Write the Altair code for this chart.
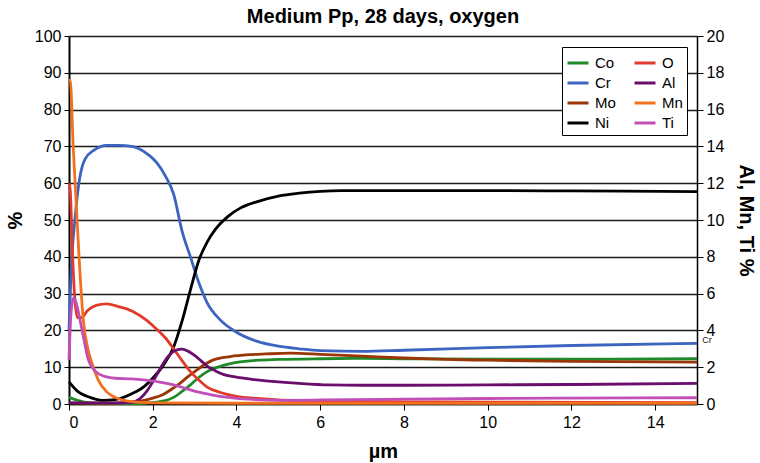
import altair as alt
import pandas as pd

# ---- data ----
order = ["Co", "Cr", "Mo", "Ni", "O", "Al", "Mn", "Ti"]
colors = ["#1f8a2a", "#3d64c1", "#9a3608", "#000000", "#e23a2a", "#6a0d6c", "#f3701f", "#c24fb8"]

# left axis (%)
co_x = [0, 0.2, 0.5, 1.0, 1.5, 1.8, 2.1, 2.3, 2.5, 2.7, 2.9, 3.1, 3.3, 3.6, 4.0, 4.5, 5.0, 6.0, 7.0, 8.0, 10.0, 12.0, 15.0]
co_y = [1.8, 1.0, 0.3, 0.1, 0.1, 0.2, 0.5, 0.9, 1.8, 3.4, 5.2, 7.2, 8.8, 10.2, 11.3, 11.9, 12.1, 12.3, 12.4, 12.3, 12.2, 12.2, 12.3]

cr_x = [0, 0.05, 0.14, 0.25, 0.38, 0.6, 0.9, 1.2, 1.5, 1.8, 2.1, 2.3, 2.5, 2.7, 2.9, 3.1, 3.3, 3.6, 4.0, 4.5, 5.0, 5.5, 6.0, 7.0, 8.0, 10.0, 12.0, 15.0]
cr_y = [20, 36, 50, 61, 66.5, 69, 70.3, 70.3, 70, 68.5, 65.5, 62, 57, 47, 40, 33, 27.5, 23, 19.5, 17, 15.7, 15, 14.5, 14.3, 14.6, 15.3, 15.9, 16.5]

mo_x = [0, 0.5, 1.0, 1.5, 1.8, 2.0, 2.25, 2.45, 2.65, 2.85, 3.05, 3.25, 3.45, 3.85, 4.3, 4.7, 5.3, 6.0, 7.0, 8.0, 9.0, 10.0, 12.0, 15.0]
mo_y = [0.3, 0.2, 0.2, 0.5, 1.0, 1.6, 2.6, 4.0, 5.6, 7.5, 9.2, 10.8, 12.0, 12.9, 13.4, 13.6, 13.8, 13.5, 13.0, 12.5, 12.1, 11.9, 11.6, 11.4]

ni_x = [0, 0.2, 0.5, 0.8, 1.1, 1.5, 1.8, 2.0, 2.25, 2.5, 2.7, 2.9, 3.1, 3.3, 3.5, 3.8, 4.1, 4.5, 5.0, 5.5, 6.0, 6.5, 7.0, 8.0, 10.0, 12.0, 15.0]
ni_y = [6, 3.5, 1.8, 1.0, 1.2, 2.8, 4.8, 7.0, 10.5, 15.5, 22.5, 31, 39, 44, 47.5, 51, 53.3, 55, 56.5, 57.3, 57.8, 58, 58, 58, 58, 57.9, 57.7]

o_x = [0, 0.03, 0.08, 0.13, 0.2, 0.3, 0.45, 0.65, 0.9, 1.2, 1.5, 1.85, 2.05, 2.3, 2.5, 2.7, 2.9, 3.1, 3.3, 3.6, 4.0, 4.5, 5.0, 5.5, 6.5, 8.0, 10.0, 15.0]
o_y = [60, 58, 42, 30, 23.5, 23.5, 25.5, 26.8, 27.2, 26.4, 25.3, 22.8, 20.8, 18, 15, 11.8, 8.8, 6.5, 4.6, 3.2, 2.1, 1.5, 1.1, 0.9, 0.7, 0.6, 0.5, 0.4]

# right axis (Al, Mn, Ti %)
al_x = [0, 1.0, 1.46, 1.7, 1.86, 2.05, 2.25, 2.4, 2.55, 2.7, 2.85, 3.0, 3.15, 3.3, 3.5, 3.7, 4.0, 4.3, 4.7, 5.0, 5.5, 6.2, 7.0, 8.0, 10.0, 12.0, 15.0]
al_y = [0.06, 0.06, 0.08, 0.3, 0.7, 1.4, 2.2, 2.66, 2.92, 2.98, 2.86, 2.64, 2.36, 2.06, 1.8, 1.6, 1.46, 1.36, 1.26, 1.2, 1.12, 1.04, 1.02, 1.02, 1.04, 1.06, 1.12]

mn_x = [0, 0.03, 0.1, 0.17, 0.25, 0.34, 0.45, 0.55, 0.7, 0.9, 1.1, 1.4, 2.0, 4.0, 8.0, 15.0]
mn_y = [17.6, 17.6, 14.0, 11.0, 7.6, 4.6, 3.0, 2.2, 1.3, 0.66, 0.36, 0.16, 0.06, 0.04, 0.04, 0.04]

ti_x = [0, 0.05, 0.11, 0.17, 0.26, 0.34, 0.45, 0.62, 0.85, 1.1, 1.5, 1.9, 2.2, 2.5, 2.8, 3.1, 3.4, 3.8, 4.3, 5.0, 6.0, 8.0, 10.0, 12.0, 15.0]
ti_y = [2.4, 5.0, 5.76, 5.5, 4.6, 3.7, 2.5, 1.8, 1.5, 1.4, 1.36, 1.28, 1.18, 1.04, 0.84, 0.64, 0.5, 0.36, 0.26, 0.2, 0.22, 0.26, 0.3, 0.32, 0.34]

x_ticks = [0, 2, 4, 6, 8, 10, 12, 14]
left_ticks = [0, 10, 20, 30, 40, 50, 60, 70, 80, 90, 100]
right_ticks = [0, 2, 4, 6, 8, 10, 12, 14, 16, 18, 20]


def long(name, xs, ys):
    return pd.DataFrame({"x": xs, "y": ys, "series": name})


left_df = pd.concat([long("Co", co_x, co_y), long("Cr", cr_x, cr_y), long("Mo", mo_x, mo_y),
                     long("Ni", ni_x, ni_y), long("O", o_x, o_y)], ignore_index=True)
right_df = pd.concat([long("Al", al_x, al_y), long("Mn", mn_x, mn_y), long("Ti", ti_x, ti_y)],
                     ignore_index=True)
label_df = pd.DataFrame({"x": [cr_x[-1]], "y": [cr_y[-1]], "label": ["Cr"]})

FONT = "Liberation Sans"

legend = alt.Legend(
    orient="none", legendX=493, legendY=11, columns=2, direction="vertical", title=None,
    symbolType="stroke", symbolSize=441, symbolStrokeWidth=3,
    labelFontSize=15, labelFont=FONT, labelColor="black", labelOffset=5,
    strokeColor="black", fillColor="white", padding=4,
    rowPadding=-2, columnPadding=12,
)
color = alt.Color("series:N", scale=alt.Scale(domain=order, range=colors), sort=order, legend=legend)

x_scale = alt.Scale(domain=[0, 15], nice=False)
x_axis = alt.Axis(values=x_ticks, title="µm", titleFontSize=20, titleFontWeight="bold",
                  titleFont=FONT, titleColor="black", titleX=314, titleY=47,
                  titleBaseline="middle", labelFontSize=16, labelFont=FONT, labelColor="black",
                  tickSize=6, tickColor="black", domainColor="black", domainWidth=1.5,
                  labelPadding=4, grid=False)
x_enc = alt.X("x:Q", scale=x_scale, axis=x_axis)

left_axis = alt.Axis(orient="left", values=left_ticks, title="%", titleFontSize=20,
                     titleFontWeight="bold", titleFont=FONT, titleColor="black",
                     titleX=-54, titleY=184, titleBaseline="middle", titleAngle=270,
                     labelFontSize=16, labelFont=FONT, labelColor="black", labelOverlap=False,
                     tickSize=5, tickColor="black", domainColor="black", domainWidth=2,
                     labelPadding=3, grid=True, gridColor="#1a1a1a", gridWidth=1.5)
y_left = alt.Y("y:Q", scale=alt.Scale(domain=[0, 100], nice=False), axis=left_axis)

left_lines = alt.Chart(left_df).mark_line(strokeWidth=2.8, interpolate="monotone").encode(
    x=x_enc, y=y_left, color=color, detail="series:N",
)

cr_label = alt.Chart(label_df).mark_text(fontSize=9, font=FONT, color="#222", dx=10, dy=-3).encode(
    x=x_enc, y=y_left, text="label:N",
)

left = alt.layer(left_lines, cr_label)

right_axis = alt.Axis(orient="right", values=right_ticks, title="Al, Mn, Ti %", titleFontSize=20,
                      titleFontWeight="bold", titleFont=FONT, titleColor="black",
                      titleX=48, titleY=184, titleBaseline="middle", titleAngle=90,
                      labelFontSize=16, labelFont=FONT, labelColor="black", labelOverlap=False,
                      tickSize=6, tickColor="black", domainColor="black", domainWidth=1.5,
                      labelPadding=3, grid=False)

right = alt.Chart(right_df).mark_line(strokeWidth=2.8, interpolate="monotone").encode(
    x=x_enc,
    y=alt.Y("y:Q", scale=alt.Scale(domain=[0, 20], nice=False), axis=right_axis),
    color=color,
    detail="series:N",
)

chart = alt.layer(left, right).resolve_scale(y="independent").properties(
    width=628, height=368,
    autosize=alt.AutoSizeParams(type="none"),
    padding={"left": 69, "top": 36, "right": 63, "bottom": 59},
    title=alt.TitleParams("Medium Pp, 28 days, oxygen", fontSize=20, fontWeight="bold",
                          font=FONT, color="black", anchor="middle", frame="group", offset=1),
).configure_view(stroke=None).configure(background="white")

chart.save("out.html", embed_options={"renderer": "svg", "actions": False})
